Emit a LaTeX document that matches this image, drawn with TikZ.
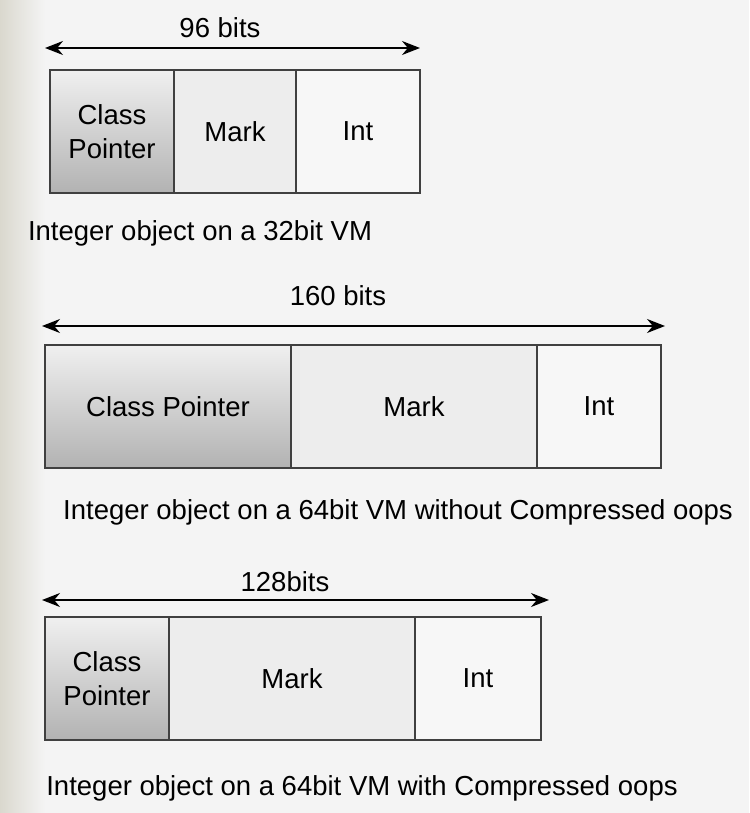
\documentclass[tikz,border=0pt]{standalone}
\usepackage{fontspec}
\setmainfont{Liberation Sans}
\usetikzlibrary{arrows.meta}
\definecolor{strip}{RGB}{218,216,206}
\definecolor{bg}{RGB}{244,244,244}
\begin{document}
\begin{tikzpicture}[x=1pt,y=-1pt,
  cell/.style={draw=black!75,line width=1.5pt,minimum height=123pt,inner sep=0pt,align=center,font=\fontsize{27.5}{34}\selectfont},
  cp/.style={cell,top color=black!6,bottom color=black!30},
  mk/.style={cell,fill=black!7},
  it/.style={cell,fill=black!3},
  dim/.style={{Stealth[length=18pt,width=14pt]}-{Stealth[length=18pt,width=14pt]},line width=1.6pt},
  lbl/.style={font=\fontsize{27.5}{33}\selectfont}]
\useasboundingbox (0,0) rectangle (749,813);
\fill[bg] (0,0) rectangle (749,813);
\fill[left color=strip,right color=bg] (0,0) rectangle (45,813);
% row 1
\node[cp,minimum width=124pt] (c1) at (112,131.5) {Class\\Pointer};
\node[mk,minimum width=122pt] (m1) at (235,131.5) {Mark};
\node[it,minimum width=124pt] (i1) at (358,131.5) {Int};
\coordinate (a1l) at (45,48); \coordinate (a1r) at (420,48);
\draw[dim] (a1l) -- (a1r);
\node[lbl] (t1) at (220,28) {96 bits};
\node[lbl] (k1) at (200,233) {Integer object on a 32bit VM};
% row 2
\node[cp,minimum width=246pt] (c2) at (168,406.5) {Class Pointer};
\node[mk,minimum width=246pt] (m2) at (414,406.5) {Mark};
\node[it,minimum width=124pt] (i2) at (599,406.5) {Int};
\coordinate (a2l) at (42,326); \coordinate (a2r) at (665,326);
\draw[dim] (a2l) -- (a2r);
\node[lbl] (t2) at (338,296) {160 bits};
\node[lbl] (k2) at (398,512) {Integer object on a 64bit VM without Compressed oops};
% row 3
\node[cp,minimum width=124pt] (c3) at (107,678.5) {Class\\Pointer};
\node[mk,minimum width=246pt] (m3) at (292,678.5) {Mark};
\node[it,minimum width=126pt] (i3) at (478,678.5) {Int};
\coordinate (a3l) at (42,600); \coordinate (a3r) at (549,600);
\draw[dim] (a3l) -- (a3r);
\node[lbl] (t3) at (285,582) {128bits};
\node[lbl] (k3) at (362,788) {Integer object on a 64bit VM with Compressed oops};
\end{tikzpicture}
\end{document}
